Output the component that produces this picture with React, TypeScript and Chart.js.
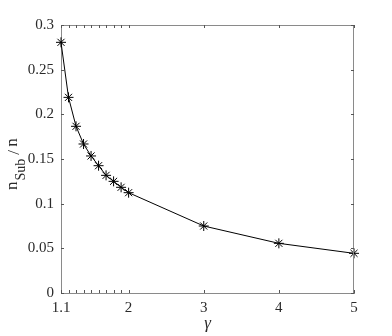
import React, { useEffect, useRef } from "react";
import { Chart, registerables } from "chart.js";

Chart.register(...registerables);

const gammaValues = [1.1, 1.2, 1.3, 1.4, 1.5, 1.6, 1.7, 1.8, 1.9, 2, 3, 4, 5];
const ratioValues = [0.2806, 0.219, 0.1866, 0.1668, 0.1534, 0.1425, 0.1317, 0.125, 0.1183, 0.1123, 0.075, 0.0556, 0.0444];
const xTickValues = [1.1, 2, 3, 4, 5];
const xMinorTicks = [1.2, 1.3, 1.4, 1.5, 1.6, 1.7, 1.8, 1.9];
const yTickValues = [0, 0.05, 0.1, 0.15, 0.2, 0.25, 0.3];

const AXIS_COLOR = "#8a8a8a";
const TEXT_COLOR = "#2a2a2a";
const FONT = "'Liberation Serif', 'Times New Roman', serif";

const framePlugin = {
  id: "frame",
  afterDraw(chart: any) {
    const { ctx, chartArea } = chart;
    const { left, right, top, bottom } = chartArea;
    const xs = chart.scales.x;
    const ys = chart.scales.y;
    ctx.save();
    ctx.strokeStyle = AXIS_COLOR;
    ctx.lineWidth = 1;
    ctx.beginPath();
    ctx.moveTo(left, top + 0.5);
    ctx.lineTo(right, top + 0.5);
    ctx.moveTo(right - 0.5, top);
    ctx.lineTo(right - 0.5, bottom);
    ctx.stroke();
    ctx.strokeStyle = "#555";
    const L = 3;
    ctx.beginPath();
    const allX = [...xTickValues, ...xMinorTicks];
    for (const v of allX) {
      const px = Math.round(xs.getPixelForValue(v)) + 0.5;
      ctx.moveTo(px, bottom);
      ctx.lineTo(px, bottom - L);
      ctx.moveTo(px, top);
      ctx.lineTo(px, top + L);
    }
    for (const v of yTickValues) {
      const py = Math.round(ys.getPixelForValue(v)) + 0.5;
      ctx.moveTo(left, py);
      ctx.lineTo(left + L, py);
      ctx.moveTo(right, py);
      ctx.lineTo(right - L, py);
    }
    ctx.stroke();

    // x title
    ctx.fillStyle = TEXT_COLOR;
    ctx.font = `italic 17px ${FONT}`;
    ctx.textAlign = "center";
    ctx.textBaseline = "middle";
    ctx.fillText("γ", (left + right) / 2, 324);

    // y title: n_Sub / n
    ctx.translate(0, (top + bottom) / 2);
    ctx.rotate(-Math.PI / 2);
    ctx.textAlign = "left";
    ctx.textBaseline = "alphabetic";
    const big = `17px ${FONT}`;
    const small = `14px ${FONT}`;
    const start = -31;
    ctx.font = big;
    ctx.fillText("n", start, 17);
    const nW = ctx.measureText("n").width;
    ctx.font = small;
    ctx.fillText("Sub", start + nW + 1, 25);
    const subW = ctx.measureText("Sub").width;
    ctx.font = big;
    ctx.fillText("/", start + nW + 1 + subW + 4, 19);
    ctx.fillText("n", start + nW + 1 + subW + 12, 17);
    ctx.restore();
  },
};

export default function App() {
  const ref = useRef<HTMLCanvasElement>(null);
  useEffect(() => {
    if (!ref.current) return;
    const chart = new Chart(ref.current, {
      type: "line",
      data: {
        datasets: [
          {
            data: gammaValues.map((g, i) => ({ x: g, y: ratioValues[i] })),
            borderColor: "#000",
            borderWidth: 1,
            pointStyle: "star",
            pointRadius: 5,
            pointBorderColor: "#000",
            pointBorderWidth: 1,
            pointBackgroundColor: "#000",
            tension: 0,
            fill: false,
            clip: false as any,
          },
        ],
      },
      options: {
        animation: false,
        responsive: false,
        layout: { padding: { top: 25, right: 38, left: 0, bottom: 0 } },
        plugins: { legend: { display: false }, tooltip: { enabled: false } },
        scales: {
          x: {
            type: "linear",
            min: 1.1,
            max: 5,
            afterBuildTicks: (s: any) => {
              s.ticks = xTickValues.map((v) => ({ value: v }));
            },
            afterFit: (s: any) => {
              s.height = 43;
            },
            ticks: {
              autoSkip: false,
              maxRotation: 0,
              padding: 6,
              color: TEXT_COLOR,
              font: { family: FONT, size: 15 },
              callback: (v: any) => String(Number(Number(v).toFixed(2))),
            },
            grid: { drawOnChartArea: false, drawTicks: false },
            border: { display: true, color: AXIS_COLOR, width: 1 },
          },
          y: {
            type: "linear",
            min: 0,
            max: 0.3,
            afterBuildTicks: (s: any) => {
              s.ticks = yTickValues.map((v) => ({ value: v }));
            },
            afterFit: (s: any) => {
              s.width = 61;
            },
            ticks: {
              autoSkip: false,
              padding: 7,
              color: TEXT_COLOR,
              font: { family: FONT, size: 15 },
              callback: (v: any) => String(Number(Number(v).toFixed(2))),
            },
            grid: { drawOnChartArea: false, drawTicks: false },
            border: { display: true, color: AXIS_COLOR, width: 1 },
          },
        },
      },
      plugins: [framePlugin],
    });
    return () => chart.destroy();
  }, []);
  return (
    <div style={{ position: "absolute", left: 0, top: 0, width: 392, height: 336, background: "#fff" }}>
      <canvas ref={ref} width={392} height={336} style={{ width: 392, height: 336 }} />
    </div>
  );
}
